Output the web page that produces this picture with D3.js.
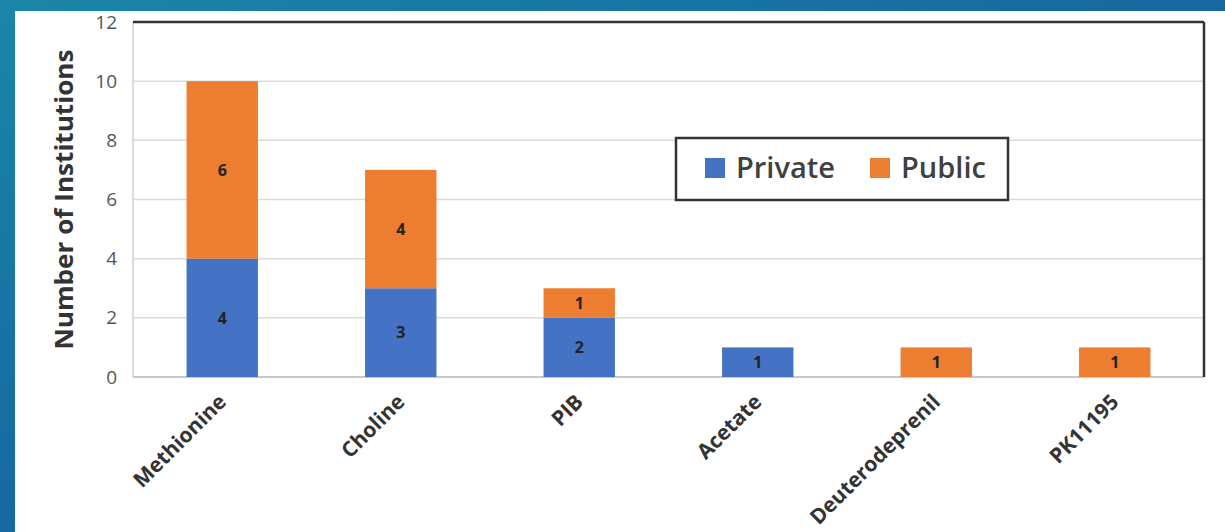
<!DOCTYPE html>
<html>
<head>
<meta charset="utf-8">
<script src="https://cdn.jsdelivr.net/npm/d3@7"></script>
<style>
  html, body { margin: 0; padding: 0; }
  body { width: 1225px; height: 532px; overflow: hidden; }
</style>
</head>
<body>
<svg id="chart" width="1225" height="532"></svg>
<script>
// Tracer counts by institution type
const categories = ["Methionine", "Choline", "PIB", "Acetate", "Deuterodeprenil", "PK11195"];
const privateValues = [4, 3, 2, 1, 0, 0];
const publicValues = [6, 4, 1, 0, 1, 1];
const seriesNames = ["Private", "Public"];
const yTicks = [0, 2, 4, 6, 8, 10, 12];

const colors = { Private: "#4472C4", Public: "#ED7D31" };
const FONT = "'Open Sans', sans-serif";

const svg = d3.select("#chart");
const W = 1225, H = 532;

// Slide-style backdrop
const defs = svg.append("defs");
const bg = defs.append("linearGradient").attr("id", "bg")
  .attr("x1", "0").attr("y1", "0").attr("x2", "1").attr("y2", "1");
bg.append("stop").attr("offset", "0").attr("stop-color", "#1a86a8");
bg.append("stop").attr("offset", "0.5").attr("stop-color", "#1668a0");
bg.append("stop").attr("offset", "1").attr("stop-color", "#0f4f8f");
svg.append("rect").attr("width", W).attr("height", H).attr("fill", "url(#bg)");
svg.append("rect").attr("x", 15).attr("y", 11).attr("width", W - 15).attr("height", H - 11).attr("fill", "#ffffff");

const plot = { left: 133, right: 1204, top: 22, bottom: 377 };

const x = d3.scaleBand().domain(categories).range([plot.left, plot.right]).paddingInner(0.6).paddingOuter(0.3);
const y = d3.scaleLinear().domain([0, 12]).range([plot.bottom, plot.top]);

const table = categories.map((c, i) => ({ category: c, Private: privateValues[i], Public: publicValues[i] }));
const stacked = d3.stack().keys(seriesNames)(table);

// Gridlines
svg.append("g").selectAll("line").data(yTicks.filter(t => t > 0 && t < 12)).join("line")
  .attr("x1", plot.left).attr("x2", plot.right)
  .attr("y1", d => y(d)).attr("y2", d => y(d))
  .attr("stroke", "#d9d9d9").attr("stroke-width", 1.5);

// Plot frame: light left/bottom, dark top/right
svg.append("line").attr("x1", plot.left).attr("x2", plot.left).attr("y1", plot.top).attr("y2", plot.bottom)
  .attr("stroke", "#d0d0d0").attr("stroke-width", 1.5);
svg.append("line").attr("x1", plot.left).attr("x2", plot.right).attr("y1", plot.bottom).attr("y2", plot.bottom)
  .attr("stroke", "#c8c8c8").attr("stroke-width", 2);
svg.append("line").attr("x1", plot.left).attr("x2", plot.right).attr("y1", plot.top).attr("y2", plot.top)
  .attr("stroke", "#333333").attr("stroke-width", 2.5);
svg.append("line").attr("x1", plot.right).attr("x2", plot.right).attr("y1", plot.top).attr("y2", plot.bottom)
  .attr("stroke", "#333333").attr("stroke-width", 2.5);

// Stacked bars
const layers = svg.append("g").selectAll("g").data(stacked).join("g")
  .attr("fill", d => colors[d.key]);
layers.selectAll("rect").data(d => d.filter(s => s[1] - s[0] > 0)).join("rect")
  .attr("x", d => x(d.data.category))
  .attr("width", x.bandwidth())
  .attr("y", d => y(d[1]))
  .attr("height", d => y(d[0]) - y(d[1]));

// Segment value labels
svg.append("g").selectAll("g").data(stacked).join("g")
  .selectAll("text").data(d => d.filter(s => s[1] - s[0] > 0)).join("text")
  .attr("x", d => x(d.data.category) + x.bandwidth() / 2)
  .attr("y", d => (y(d[0]) + y(d[1])) / 2)
  .attr("dy", "0.36em")
  .attr("text-anchor", "middle")
  .attr("font-family", FONT)
  .attr("font-size", 16).attr("font-weight", "bold").attr("fill", "#222")
  .text(d => d[1] - d[0]);

// Y axis
const yAxis = svg.append("g").attr("transform", `translate(${plot.left},0)`)
  .call(d3.axisLeft(y).tickValues(yTicks).tickSize(0).tickPadding(16));
yAxis.select(".domain").remove();
yAxis.selectAll("text")
  .attr("font-family", FONT).attr("font-size", 19).attr("fill", "#555");

// X axis with rotated labels
const xAxis = svg.append("g").attr("transform", `translate(0,${plot.bottom})`)
  .call(d3.axisBottom(x).tickSize(0).tickPadding(0));
xAxis.select(".domain").remove();
xAxis.selectAll("text")
  .attr("font-family", FONT).attr("font-size", 21).attr("font-weight", "bold").attr("fill", "#333")
  .attr("text-anchor", "end")
  .attr("transform", "translate(0,21) rotate(-45)")
  .attr("dy", "0.35em");

// Y axis title
svg.append("text")
  .attr("transform", `translate(73,${(plot.top + plot.bottom) / 2}) rotate(-90)`)
  .attr("text-anchor", "middle")
  .attr("font-family", FONT).attr("font-size", 25).attr("font-weight", "bold").attr("fill", "#333")
  .attr("textLength", 300).attr("lengthAdjust", "spacingAndGlyphs")
  .text("Number of Institutions");

// Legend
const legend = svg.append("g").attr("transform", "translate(676,138)");
legend.append("rect").attr("width", 332).attr("height", 62)
  .attr("fill", "#fff").attr("stroke", "#333").attr("stroke-width", 2.5);
const legendX = [29, 194];
const items = legend.selectAll("g").data(seriesNames).join("g")
  .attr("transform", (d, i) => `translate(${legendX[i]},20)`);
items.append("rect").attr("width", 20).attr("height", 20).attr("fill", d => colors[d]);
items.append("text").attr("x", 31).attr("y", 10).attr("dy", "0.36em")
  .attr("font-family", FONT).attr("font-size", 29).attr("font-weight", 600).attr("fill", "#404040")
  .text(d => d);
</script>
</body>
</html>
